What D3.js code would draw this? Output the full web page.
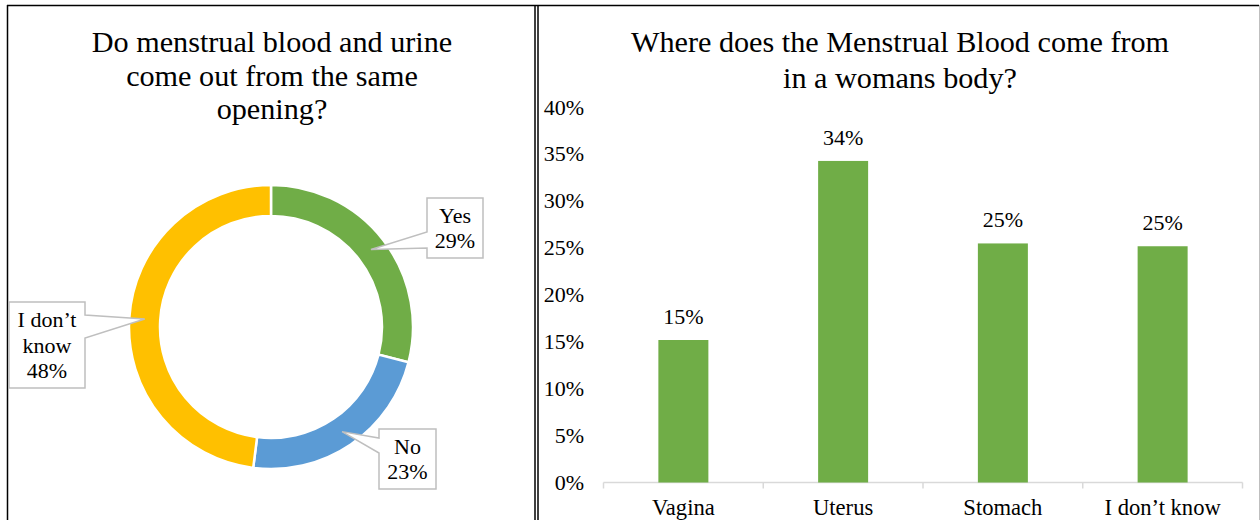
<!DOCTYPE html>
<html><head><meta charset="utf-8">
<script src="https://cdn.jsdelivr.net/npm/d3@7"></script>
<style>
html,body{margin:0;padding:0;background:#fff;}
svg{display:block;font-family:"Liberation Serif","Times New Roman",serif;}
</style></head>
<body>
<svg id="c" width="1260" height="520"></svg>
<script>
// ---- data ----
const pieTitle = ["Do menstrual blood and urine", "come out from the same", "opening?"];
const pieLabels = ["Yes", "No", "I don\u2019t know"];
const pieValues = [29, 23, 48];
const pieLabelLines = [["Yes", "29%"], ["No", "23%"], ["I don\u2019t", "know", "48%"]];
const pieColors = ["#70ad47", "#5b9bd5", "#ffc000"];

const barTitle = ["Where does the Menstrual Blood come from", "in a womans body?"];
const barCategories = ["Vagina", "Uterus", "Stomach", "I don\u2019t know"];
const barValues = [15.2, 34.3, 25.5, 25.2];
const barLabels = ["15%", "34%", "25%", "25%"];
const yTicks = [0, 5, 10, 15, 20, 25, 30, 35, 40];

// ---- layout ----
const svg = d3.select("#c");
const FS = 22;
const TFS = 30.2;

// panel borders
svg.append("line").attr("x1", 7).attr("x2", 1259).attr("y1", 5.5).attr("y2", 5.5).attr("stroke", "#000").attr("stroke-width", 1.5);
svg.append("line").attr("x1", 7.5).attr("x2", 7.5).attr("y1", 5).attr("y2", 520).attr("stroke", "#000").attr("stroke-width", 1.5);
svg.append("line").attr("x1", 535).attr("x2", 535).attr("y1", 5).attr("y2", 520).attr("stroke", "#000").attr("stroke-width", 1.5);
svg.append("line").attr("x1", 538).attr("x2", 538).attr("y1", 5).attr("y2", 520).attr("stroke", "#000").attr("stroke-width", 1.5);
svg.append("line").attr("x1", 1259.5).attr("x2", 1259.5).attr("y1", 5).attr("y2", 520).attr("stroke", "#bfbfbf").attr("stroke-width", 1);

// ---- donut ----
const cx = 271, cy = 327, rOut = 142, rIn = 111;
svg.append("g").selectAll("text").data(pieTitle).join("text")
  .attr("x", 272).attr("y", (d, i) => 52 + i * 33.5)
  .attr("text-anchor", "middle").attr("font-size", TFS).attr("fill", "#000").text(d => d);

const pie = d3.pie().sort(null).value(d => d).startAngle(0).endAngle(2 * Math.PI);
const arcs = pie(pieValues);
const arc = d3.arc().innerRadius(rIn).outerRadius(rOut);
const gp = svg.append("g").attr("transform", `translate(${cx},${cy})`);
gp.selectAll("path").data(arcs).join("path")
  .attr("d", arc).attr("fill", (d, i) => pieColors[i])
  .attr("stroke", "#fff").attr("stroke-width", 2.5);

// callout boxes (absolute layout)
const boxes = [
  {x: 427, y: 198, w: 56, h: 60, side: "left", p1: 232, p2: 248},
  {x: 379, y: 429, w: 57, h: 60, side: "left", p1: 438, p2: 453},
  {x: 9, y: 302, w: 76, h: 86, side: "right", p1: 315, p2: 338}
];
arcs.forEach((a, i) => {
  const c = arc.centroid(a);
  const tx = cx + c[0], ty = cy + c[1];
  const b = boxes[i];
  const L = b.x, R = b.x + b.w, T = b.y, B = b.y + b.h;
  let path;
  if (b.side === "left") {
    path = `M${L},${T}L${R},${T}L${R},${B}L${L},${B}L${L},${b.p2}L${tx},${ty}L${L},${b.p1}Z`;
  } else {
    path = `M${L},${T}L${R},${T}L${R},${b.p1}L${tx},${ty}L${R},${b.p2}L${R},${B}L${L},${B}Z`;
  }
  svg.append("path").attr("d", path).attr("fill", "#fff").attr("stroke", "#bfbfbf").attr("stroke-width", 1.5);
  const lines = pieLabelLines[i];
  const lh = 25.5;
  const startY = (T + B) / 2 - (lines.length - 1) * lh / 2 + 7.5;
  svg.append("g").selectAll("text").data(lines).join("text")
    .attr("x", (L + R) / 2).attr("y", (d, j) => startY + j * lh)
    .attr("text-anchor", "middle").attr("font-size", FS).attr("fill", "#000").text(d => d);
});

// ---- bar chart ----
svg.append("g").selectAll("text").data(barTitle).join("text")
  .attr("x", 900).attr("y", (d, i) => 52 + i * 36)
  .attr("text-anchor", "middle").attr("font-size", TFS).attr("fill", "#000").text(d => d);

const x = d3.scaleBand().domain(barCategories).range([603.5, 1242.5]).paddingInner(0).paddingOuter(0);
const y = d3.scaleLinear().domain([0, 40]).range([482.5, 107.5]);
const bw = 50;

const yAxis = d3.axisLeft(y).tickValues(yTicks).tickFormat(d => d + "%").tickSize(0).tickPadding(0);
const gy = svg.append("g").attr("transform", "translate(584,0)").call(yAxis);
gy.select(".domain").remove();
gy.selectAll("text").attr("font-size", FS).attr("font-family", "Liberation Serif").attr("fill", "#000").attr("dy", "0.3em");

const xAxis = d3.axisBottom(x).tickSize(0).tickPadding(0);
const gx = svg.append("g").attr("transform", `translate(0,${y(0)})`).call(xAxis);
gx.select(".domain").attr("stroke", "#d9d9d9").attr("stroke-width", 1.5).attr("d", `M603.5,0H1242.5`);
gx.selectAll("text").attr("font-size", 22.6).attr("font-family", "Liberation Serif").attr("fill", "#000").attr("y", 32.5).attr("dy", 0);
// boundary ticks
const bounds = barCategories.map(c => x(c)).concat([x.range()[1]]);
gx.selectAll(".btick").data(bounds).join("line").attr("class", "btick")
  .attr("x1", d => d).attr("x2", d => d).attr("y1", 0).attr("y2", 6)
  .attr("stroke", "#d9d9d9").attr("stroke-width", 1.5);

svg.append("g").selectAll("rect").data(barValues).join("rect")
  .attr("x", (d, i) => x(barCategories[i]) + x.bandwidth() / 2 - bw / 2)
  .attr("y", d => y(d)).attr("width", bw).attr("height", d => y(0) - y(d))
  .attr("fill", "#70ad47");

svg.append("g").selectAll("text").data(barValues).join("text")
  .attr("x", (d, i) => x(barCategories[i]) + x.bandwidth() / 2)
  .attr("y", d => y(d) - 16)
  .attr("text-anchor", "middle").attr("font-size", FS).attr("fill", "#000")
  .text((d, i) => barLabels[i]);
</script>
</body></html>
